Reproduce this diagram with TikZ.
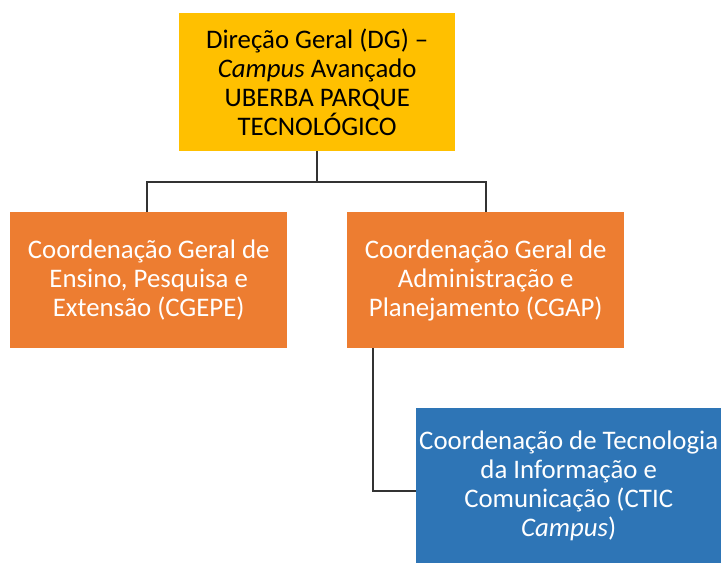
\documentclass[tikz,border=0pt]{standalone}
\usepackage{fontspec}
\setmainfont{Carlito}
\definecolor{gold}{HTML}{FFC000}
\definecolor{orng}{HTML}{ED7D31}
\definecolor{blu}{HTML}{2E75B6}
\begin{document}
\begin{tikzpicture}[x=1pt,y=-1pt,
  box/.style={rectangle, anchor=north west, inner sep=0pt, align=center,
    font=\fontsize{26.8}{29}\selectfont},
  conn/.style={draw=black!80, line width=2pt}]
\useasboundingbox[fill=white] (0,0) rectangle (723,565);
\node[box, fill=gold, text=black, minimum width=276pt, minimum height=138pt] (dg) at (179,13)
  {Direção Geral (DG) --\\\textit{Campus} Avançado\\UBERBA PARQUE\\TECNOLÓGICO};
\node[box, fill=orng, text=white, minimum width=277pt, minimum height=136pt] (cgepe) at (10,212)
  {Coordenação Geral de\\Ensino, Pesquisa e\\Extensão (CGEPE)};
\node[box, fill=orng, text=white, minimum width=277pt, minimum height=136pt] (cgap) at (347,212)
  {Coordenação Geral de\\Administração e\\Planejamento (CGAP)};
\node[box, fill=blu, text=white, minimum width=305pt, minimum height=155pt] (ctic) at (416,408)
  {Coordenação de Tecnologia\\da Informação e\\Comunicação (CTIC\\\textit{Campus})};
\coordinate (hub) at (317,182);
\draw[conn] (dg.south -| hub) -- (hub);
\draw[conn] (cgepe.north -| 147,0) -- (147,182) -- (486,182) -- (cgap.north -| 486,0);
\draw[conn] (cgap.south -| 373,0) -- (373,491) -- (ctic.west |- 0,491);
\end{tikzpicture}
\end{document}
